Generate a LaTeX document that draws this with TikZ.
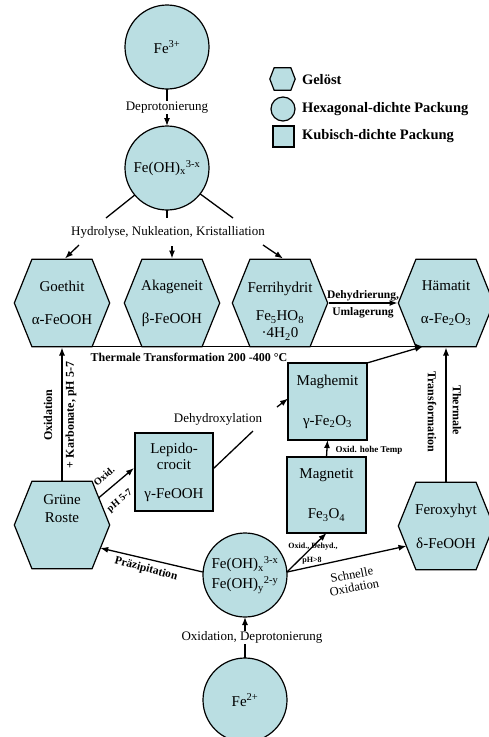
\documentclass[tikz,border=0pt]{standalone}
\usepackage{fontspec}
\setmainfont{Liberation Serif}
\usetikzlibrary{arrows.meta,calc}
\definecolor{cfill}{RGB}{186,222,226}
\begin{document}
\begin{tikzpicture}[x=1pt,y=-1pt,
  every node/.style={outer sep=0pt},
  shp/.style={draw=black, line width=1.2pt, fill=cfill},
  circ/.style={shp, circle, minimum size=84pt, inner sep=0pt, align=center, font=\fontsize{15}{17}\selectfont},
  box/.style={shp, rectangle, inner sep=0pt, align=center, font=\fontsize{15}{17}\selectfont},
  hexa/.style={rectangle, inner sep=0pt, align=center, font=\fontsize{15}{17}\selectfont,
    path picture={
      \filldraw[shp]
        ($(path picture bounding box.west)+(0.8pt,0pt)$)
        -- ($(path picture bounding box.north west)!0.19!(path picture bounding box.north east)+(0pt,-0.8pt)$)
        -- ($(path picture bounding box.north east)!0.19!(path picture bounding box.north west)+(0pt,-0.8pt)$)
        -- ($(path picture bounding box.east)+(-0.8pt,0pt)$)
        -- ($(path picture bounding box.south east)!0.19!(path picture bounding box.south west)+(0pt,0.8pt)$)
        -- ($(path picture bounding box.south west)!0.19!(path picture bounding box.south east)+(0pt,0.8pt)$)
        -- cycle;}},
  hexbig/.style={minimum width=97pt, minimum height=89pt},
  arr/.style={line width=1.3pt, -{Latex[length=8pt,width=6pt]}},
  ln/.style={line width=1.3pt},
  lbl/.style={font=\fontsize{13}{15}\selectfont, inner sep=1pt},
  blbl/.style={font=\bfseries\fontsize{12}{14}\selectfont, inner sep=1pt},
  bmid/.style={font=\bfseries\fontsize{11.5}{13}\selectfont, inner sep=1pt},
  bsmall/.style={font=\bfseries\fontsize{9}{10}\selectfont, inner sep=1pt},
  bdiag/.style={font=\bfseries\fontsize{10}{11}\selectfont, inner sep=0pt, rotate=40},
  btiny/.style={font=\bfseries\fontsize{8}{9}\selectfont, inner sep=0.5pt},
  leg/.style={font=\bfseries\fontsize{14.5}{16}\selectfont, inner sep=0pt, anchor=west},
]
\fill[white] (0,0) rectangle (488,737);
\useasboundingbox (0,0) rectangle (488,737);

% legend
\node[hexa, minimum width=27pt, minimum height=24pt] (lg1) at (282.5,79) {};
\node[circ, minimum size=24pt] (lg2) at (283,109) {};
\node[box, minimum size=21pt] (lg3) at (283.5,136.5) {};
\node[leg] (lt1) at (302,80) {Gelöst};
\node[leg] (lt2) at (302,109) {Hexagonal-dichte Packung};
\node[leg] (lt3) at (302,136) {Kubisch-dichte Packung};

% main nodes
\node[circ] (fe3) at (167,47) {Fe\textsuperscript{3+}};
\node[circ] (feoh) at (167,168) {Fe(OH)\textsubscript{x}\textsuperscript{3-x}};
\node[lbl] (hyd) at (168,232) {Hydrolyse, Nukleation, Kristalliation};

\node[hexa, hexbig] (goe) at (62,303) {Goethit\\[16pt]α-FeOOH};
\node[hexa, hexbig] (aka) at (172,303) {Akageneit\\[16pt]β-FeOOH};
\node[hexa, hexbig] (fer) at (280,303) {\rule{0pt}{27pt}Ferrihydrit\\[11pt]Fe\textsubscript{5}HO\textsubscript{8}\\·4H\textsubscript{2}0};
\node[hexa, hexbig] (ham) at (446,303) {Hämatit\\[16pt]α-Fe\textsubscript{2}O\textsubscript{3}};

\node[box, minimum width=79pt, minimum height=77pt] (mgh) at (327.5,401.5) {Maghemit\\[23pt]γ-Fe\textsubscript{2}O\textsubscript{3}};
\node[box, minimum width=79pt, minimum height=76pt] (mgt) at (326.5,495) {Magnetit\\[23pt]Fe\textsubscript{3}O\textsubscript{4}};
\node[box, minimum size=78pt] (lep) at (174,472) {Lepido-\\[-1pt]crocit\\[12pt]γ-FeOOH};
\node[hexa, hexbig] (gru) at (62,525) {Grüne\\[1pt]Roste\rule[-32pt]{0pt}{32pt}};
\node[hexa, hexbig] (fex) at (446,526) {Feroxyhyt\\[17pt]δ-FeOOH};
\node[circ] (fe23) at (245,575) {Fe(OH)\textsubscript{x}\textsuperscript{3-x}\\[3pt]Fe(OH)\textsubscript{y}\textsuperscript{2-y}};
\node[circ] (fe2) at (245,700) {Fe\textsuperscript{2+}};

% top connectors
\draw[arr] (fe3.south) -- (feoh.north) node[lbl, midway, fill=white] (dep) {Deprotonierung};
\coordinate (hl) at (106,218);
\coordinate (hm) at (167,218);
\coordinate (hr) at (233,218);
\draw[ln] (feoh.-140) -- (hl);
\draw[ln] (feoh.south) -- (hm);
\draw[ln] (feoh.-38) -- (hr);
\coordinate (al) at (79,245);
\coordinate (am) at (172,246);
\coordinate (ar) at (263,245);
\draw[arr] (al) -- ($(goe.north)+(3,0)$);
\draw[arr] (am) -- (aka.north);
\draw[arr] (ar) -- ($(fer.north)+(3,0)$);

% hexagon row
\draw[arr] (fer.east) -- (ham.west)
  node[bmid, midway, above=1pt] (deh) {Dehydrierung,}
  node[bmid, midway, below=4pt] (uml) {Umlagerung};
\draw[arr] ($(goe.south west)+(18.5,-1)$) -- ($(ham.south)+(-23,-1)$);
\node[blbl] (tt) at (189,357) {Thermale Transformation 200 -400 °C};
\draw[arr] (mgh.north east) -- ($(ham.south)+(-23,-1)$);

% left column
\draw[arr] (gru.north) -- (goe.south);
\node[blbl, rotate=90] (oxl) at (48,415) {Oxidation};
\node[blbl, rotate=90] (kal) at (71,415) {+ Karbonate, pH 5-7};
\draw[arr] ($(gru.center)+(36.5,-27)$) -- ($(lep.west)+(-1,-4)$);
\node[bdiag] (oxg) at (104,476) {Oxid.};
\node[bdiag] (phg) at (120,501) {pH 5-7};

% dehydroxylation
\coordinate (dx1) at (253,431);
\coordinate (dx2) at (277,407);
\draw[ln] ($(lep.east)+(0,-3)$) -- (dx1);
\draw[arr] (dx2) -- ($(mgh.west)+(0,-3)$);
\node[lbl] (dxl) at (218,419) {Dehydroxylation};

% magnetit -> maghemit
\draw[arr] (mgt.north) -- (mgh.south);
\node[bsmall] (oht) at (369,450) {Oxid. hohe Temp};

% center circle
\draw[arr] (fe23.176) -- ($(gru.center)+(38.2,23)$);
\node[bmid, rotate=-15] (pra) at (146,569) {Präzipitation};
\draw[arr] (fe23.4) -- (mgt.south);
\node[btiny] (odl) at (313,547) {Oxid., Dehyd.,};
\node[btiny] (ph8) at (312,561) {pH>8};
\draw[arr] (fe23.4) -- ($(fex.center)+(-39.5,20)$);
\node[lbl, font=\fontsize{12.5}{13}\selectfont, rotate=11, align=center] (sox) at (353,581) {Schnelle\\Oxidation};

% right column
\draw[arr] (fex.north) -- (ham.south);
\node[blbl, rotate=-90] (trl) at (432,412) {Transformation};
\node[blbl, rotate=-90] (thl) at (457,410) {Thermale};

% bottom
\draw[arr] (fe2.north) -- (fe23.south) node[lbl, midway, fill=white, xshift=7] (oxd) {Oxidation, Deprotonierung};
\end{tikzpicture}
\end{document}
